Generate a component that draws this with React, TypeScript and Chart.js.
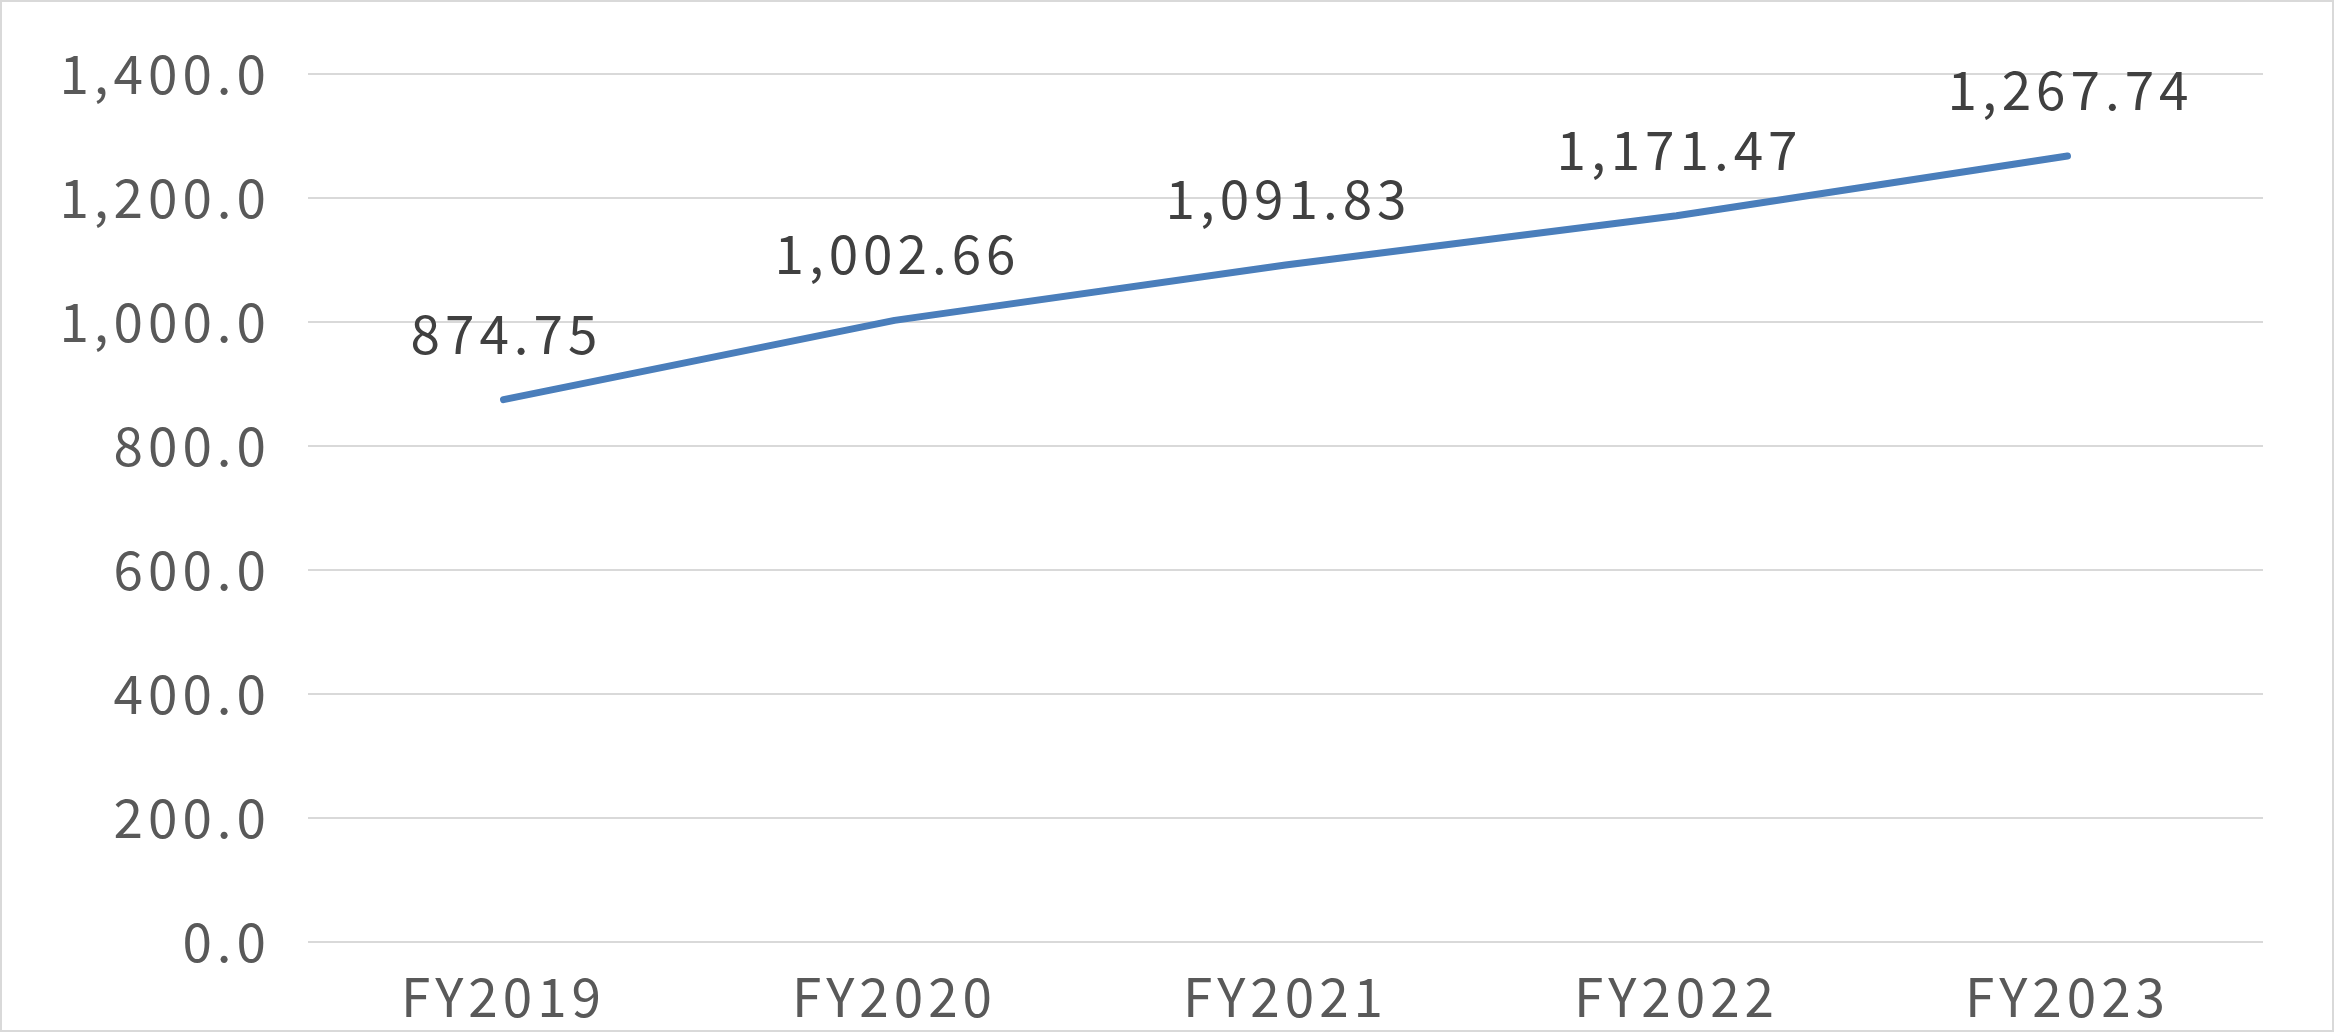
import React, { useEffect, useRef } from "react";
import { Chart, registerables } from "chart.js";

Chart.register(...registerables);

const categories = ["FY2019", "FY2020", "FY2021", "FY2022", "FY2023"];
const values = [874.75, 1002.66, 1091.83, 1171.47, 1267.74];
const yMin = 0;
const yMax = 1400;
const yStep = 200;

const FONT = "'Noto Sans CJK JP', 'Noto Sans', sans-serif";
const SPACING = "5px";

const spacingPlugin = {
  id: "spacing",
  beforeUpdate(chart: any) { chart.ctx.letterSpacing = SPACING; },
  beforeDraw(chart: any) { chart.ctx.letterSpacing = SPACING; },
};

const labelPlugin = {
  id: "pointLabels",
  afterDatasetsDraw(chart: any) {
    const ctx = chart.ctx;
    const meta = chart.getDatasetMeta(0);
    ctx.save();
    ctx.letterSpacing = SPACING;
    ctx.font = `53px ${FONT}`;
    ctx.fillStyle = "#404040";
    ctx.textAlign = "center";
    ctx.textBaseline = "middle";
    meta.data.forEach((pt: any, i: number) => {
      const txt = values[i].toLocaleString("en-US", { minimumFractionDigits: 2, maximumFractionDigits: 2 });
      ctx.fillText(txt, pt.x + 3, pt.y - 66);
    });
    ctx.restore();
  },
};

export default function App() {
  const ref = useRef<HTMLCanvasElement | null>(null);
  useEffect(() => {
    document.body.style.margin = "0";
    const chart = new Chart(ref.current as HTMLCanvasElement, {
      type: "line",
      data: {
        labels: categories,
        datasets: [
          {
            data: values,
            borderColor: "#4a7ebb",
            borderWidth: 7,
            borderCapStyle: "round",
            borderJoinStyle: "round",
            pointRadius: 0,
            tension: 0,
            fill: false,
          },
        ],
      },
      options: {
        animation: false,
        responsive: false,
        maintainAspectRatio: false,
        layout: { padding: { left: 0, top: 72, right: 69, bottom: 0 } },
        plugins: { legend: { display: false }, tooltip: { enabled: false } },
        scales: {
          x: {
            offset: true,
            grid: { display: false, drawTicks: false },
            border: { display: false },
            ticks: { color: "#595959", font: { family: FONT, size: 53 }, padding: 23 },
            afterFit: (s: any) => { s.height = 88; },
          },
          y: {
            min: yMin,
            max: yMax,
            ticks: {
              stepSize: yStep,
              color: "#595959",
              font: { family: FONT, size: 53 },
              padding: 37,
              callback: (v: any) => Number(v).toLocaleString("en-US", { minimumFractionDigits: 1, maximumFractionDigits: 1 }),
            },
            grid: { color: "#d9d9d9", lineWidth: 2, drawTicks: false },
            border: { display: false },
            afterFit: (s: any) => { s.width = 306; },
          },
        },
      },
      plugins: [spacingPlugin, labelPlugin],
    } as any);
    return () => chart.destroy();
  }, []);
  return (
    <div style={{ width: 2334, height: 1032, boxSizing: "border-box", border: "2px solid #d9d9d9", background: "#fff", position: "relative" }}>
      <canvas ref={ref} width={2330} height={1028} style={{ display: "block" }} />
    </div>
  );
}
